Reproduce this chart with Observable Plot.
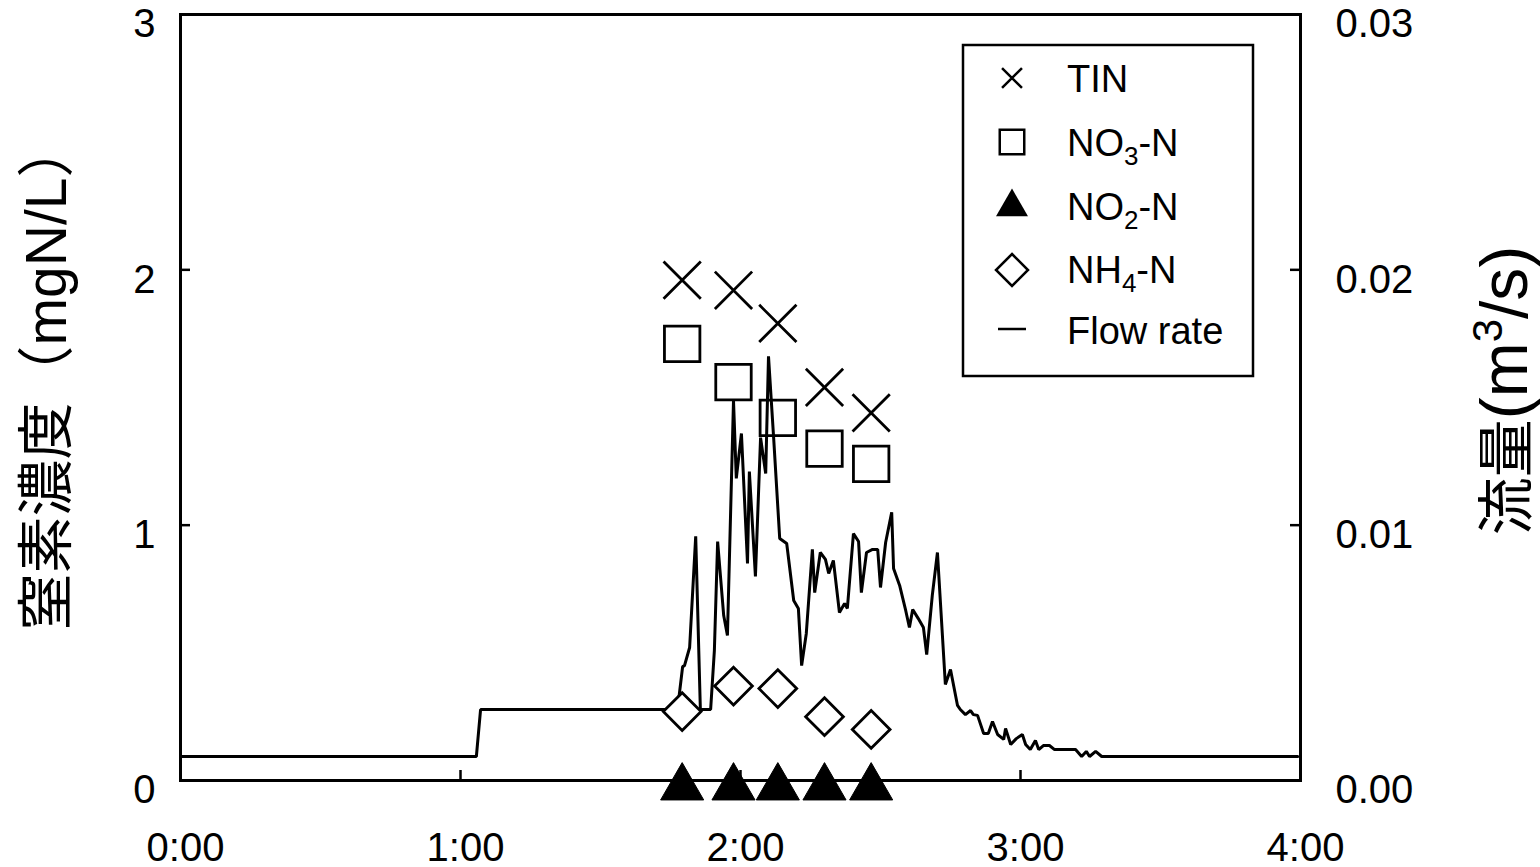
<!DOCTYPE html>
<html><head><meta charset="utf-8">
<script src="https://cdn.jsdelivr.net/npm/d3@7"></script>
<script src="https://cdn.jsdelivr.net/npm/@observablehq/plot@0.6"></script>
<style>
html,body{margin:0;padding:0;background:#fff;}
#chart svg{display:block;}
</style></head><body><div id="chart"></div>
<script>
// ---- data ----
const sampleMinutes = [107.5, 118.5, 128, 138, 148];
const tin = [1.96, 1.92, 1.79, 1.54, 1.44];
const no3 = [1.71, 1.56, 1.42, 1.30, 1.24];
const no2 = [0, 0, 0, 0, 0];
const nh4 = [0.27, 0.37, 0.36, 0.25, 0.20];

// [minutes since 0:00, flow rate m3/s]
const flowSeries = [
  [0, 0.00094], [63.4, 0.00094], [64.3, 0.00278], [106.5, 0.00278], [107.6, 0.00446],
  [108.0, 0.00450], [109.1, 0.00521], [110.4, 0.00956], [111.4, 0.00278], [113.6, 0.00278],
  [114.4, 0.00509], [115.1, 0.00936], [116.4, 0.00646], [117.2, 0.00568], [118.5, 0.01488],
  [119.1, 0.01183], [120.2, 0.01359], [121.5, 0.00850], [121.9, 0.01210], [123.2, 0.00799],
  [124.3, 0.01343], [125.4, 0.01202], [126.0, 0.01661], [127.1, 0.01343], [128.4, 0.00948],
  [129.9, 0.00928], [131.4, 0.00705], [132.4, 0.00674], [133.1, 0.00450], [134.1, 0.00576],
  [135.4, 0.00905], [135.9, 0.00736], [137.1, 0.00893], [138.2, 0.00866], [138.9, 0.00811],
  [139.9, 0.00862], [141.2, 0.00658], [142.3, 0.00693], [142.9, 0.00674], [144.2, 0.00967],
  [145.3, 0.00936], [145.9, 0.00736], [147.0, 0.00893], [148.3, 0.00905], [149.4, 0.00905],
  [150.0, 0.00756], [151.1, 0.00932], [152.4, 0.01050], [152.8, 0.00830], [154.1, 0.00764],
  [155.4, 0.00666], [156.2, 0.00599], [156.9, 0.00670], [158.1, 0.00634], [159.2, 0.00599],
  [159.9, 0.00493], [161.1, 0.00725], [162.2, 0.00893], [163.9, 0.00376], [165.0, 0.00435],
  [166.5, 0.00294], [167.1, 0.00278], [168.2, 0.00258], [169.3, 0.00274], [169.9, 0.00258],
  [170.8, 0.00255], [172.1, 0.00184], [173.1, 0.00184], [174.0, 0.00231], [175.1, 0.00180],
  [176.4, 0.00161], [176.8, 0.00204], [177.9, 0.00141], [179.1, 0.00164], [180.4, 0.00180],
  [181.1, 0.00141], [182.1, 0.00121], [183.2, 0.00157], [183.9, 0.00121], [184.9, 0.00137],
  [186.2, 0.00137], [187.3, 0.00121], [191.8, 0.00121], [193.1, 0.00094], [194.1, 0.00114],
  [194.8, 0.00094], [196.1, 0.00114], [197.4, 0.00094], [239.4, 0.00094]
];

const timeTicks = [0, 60, 120, 180, 240];
const timeTickLabels = ["0:00", "1:00", "2:00", "3:00", "4:00"];
const concTicks = [0, 1, 2, 3];
const flowTickLabels = ["0.00", "0.01", "0.02", "0.03"];
const leftTitle = "窒素濃度（mgN/L）";
const rightTitleParts = ["流量", "(m", "3", "/s)"];
const legendLabels = [["TIN"], ["NO", "3", "-N"], ["NO", "2", "-N"], ["NH", "4", "-N"], ["Flow rate"]];

// ---- tables ----
const samples = sampleMinutes.map((m, i) => ({m, tin: tin[i], no3: no3[i], no2: no2[i], nh4: nh4[i]}));
const flow = flowSeries.map(([m, q]) => ({m, q}));

const FONT = "'Liberation Sans', Arial, 'Noto Sans CJK JP', sans-serif";
const W = 1540, H = 867;
const mL = 180, mR = 240, mT = 14, mB = 87;
const innerW = W - mL - mR, innerH = H - mT - mB;

const plot = Plot.plot({
  width: W, height: H,
  marginLeft: mL, marginRight: mR, marginTop: mT, marginBottom: mB,
  style: {fontFamily: FONT, background: "white", color: "black", overflow: "visible"},
  x: {domain: [0, 240], axis: null},
  y: {domain: [0, 3], axis: null},
  marks: [
    // inward tick marks
    Plot.gridY([1, 2], {stroke: "black", strokeOpacity: 1, strokeWidth: 2.5, insetRight: innerW - 10}),
    Plot.gridY([1, 2], {stroke: "black", strokeOpacity: 1, strokeWidth: 2.5, insetLeft: innerW - 10}),
    Plot.gridX([60, 120, 180], {stroke: "black", strokeOpacity: 1, strokeWidth: 2.5, insetTop: innerH - 10}),
    // tick labels
    Plot.axisY(concTicks, {anchor: "left", tickSize: 0, tickPadding: 25, fontSize: 40, dy: 10, tickFormat: d => String(d), label: null}),
    Plot.axisY(concTicks, {anchor: "right", tickSize: 0, tickPadding: 35, fontSize: 40, dy: 10, tickFormat: d => flowTickLabels[concTicks.indexOf(d)], label: null}),
    Plot.axisX(timeTicks, {anchor: "bottom", tickSize: 0, tickPadding: 52, fontSize: 40, dx: 5, tickFormat: d => timeTickLabels[timeTicks.indexOf(d)], label: null}),
    // titles
    Plot.text([leftTitle], {text: d => d, frameAnchor: "left", textAnchor: "middle", dx: -133, dy: -22, rotate: -90, fontSize: 57, fill: "black"}),
    Plot.text([rightTitleParts.join("")], {text: d => d, className: "rtitle", frameAnchor: "right", textAnchor: "middle", dx: 208, dy: -7, rotate: -90, fontSize: 58, fill: "black"}),
    // flow line
    Plot.line(flow, {x: "m", y: d => d.q * 100, stroke: "black", strokeWidth: 3, strokeLinejoin: "miter"}),
    // markers
    Plot.dot(samples, {x: "m", y: "tin", symbol: "times", r: 17, stroke: "black", strokeWidth: 2.8}),
    Plot.dot(samples, {x: "m", y: "no3", symbol: "square", r: 20, stroke: "black", fill: "none", strokeWidth: 2.8}),
    Plot.dot(samples, {x: "m", y: "nh4", symbol: "diamond2", r: 17, stroke: "black", fill: "white", strokeWidth: 2.8}),
    Plot.dot(samples, {x: "m", y: "no2", symbol: "triangle", r: 16, fill: "black", stroke: "black", strokeWidth: 1, dy: 7}),
    Plot.frame({stroke: "black", strokeWidth: 3})
  ]
});

const svg = d3.select(plot);

// right title: larger Latin part with superscript 3
const rt = svg.select(".rtitle text");
if (!rt.empty()) {
  rt.text(null);
  rt.append("tspan").text(rightTitleParts[0]);
  rt.append("tspan").attr("font-size", 66).text(rightTitleParts[1]);
  rt.append("tspan").attr("font-size", 42).attr("dy", -25).text(rightTitleParts[2]);
  rt.append("tspan").attr("font-size", 66).attr("dy", 25).text(rightTitleParts[3]);
}

// ---- legend (inside plot area) ----
const lg = svg.append("g").attr("font-family", FONT).attr("text-anchor", "start");
lg.append("rect").attr("x", 963).attr("y", 45).attr("width", 290).attr("height", 331)
  .attr("fill", "white").attr("stroke", "black").attr("stroke-width", 2.5);
const symX = 1012, textX = 1067;
const rows = [
  {cy: 78, base: 92, sym: d3.symbol(d3.symbolTimes, 261)(), fill: "none", stroke: "black"},
  {cy: 142, base: 156, sym: d3.symbol(d3.symbolSquare, 600)(), fill: "none", stroke: "black"},
  {cy: 207, base: 220, sym: d3.symbol(d3.symbolTriangle, 443)(), fill: "black", stroke: "none"},
  {cy: 270, base: 283, sym: d3.symbol(d3.symbolDiamond2, 653)(), fill: "none", stroke: "black"},
  {cy: 329, base: 344, sym: null}
];
rows.forEach((r, i) => {
  if (r.sym) {
    lg.append("path").attr("d", r.sym).attr("transform", `translate(${symX},${r.cy})`)
      .attr("fill", r.fill).attr("stroke", r.stroke).attr("stroke-width", 2.5);
  } else {
    lg.append("line").attr("x1", symX - 14).attr("x2", symX + 14).attr("y1", r.cy).attr("y2", r.cy)
      .attr("stroke", "black").attr("stroke-width", 2.5);
  }
  const t = lg.append("text").attr("x", textX).attr("y", r.base).attr("font-size", 38)
    .attr("fill", "black").attr("text-anchor", "start");
  const parts = legendLabels[i];
  t.append("tspan").text(parts[0]);
  if (parts.length > 1) {
    t.append("tspan").attr("dy", 9).attr("font-size", 26).text(parts[1]);
    t.append("tspan").attr("dy", -9).text(parts[2]);
  }
});

document.getElementById("chart").appendChild(plot);
</script>
</body></html>
